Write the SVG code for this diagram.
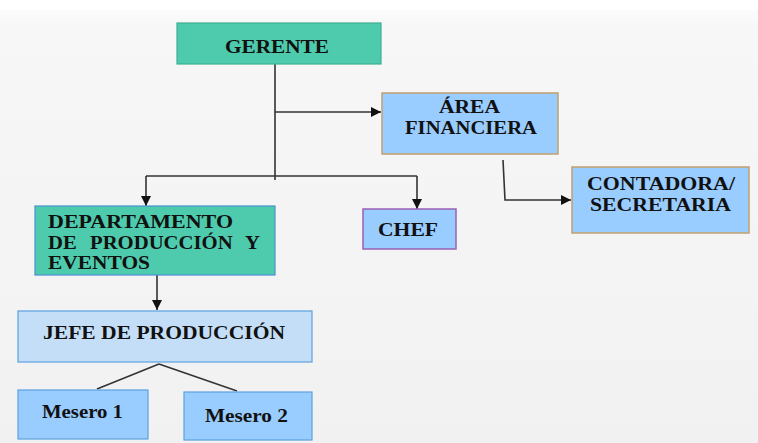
<svg xmlns="http://www.w3.org/2000/svg" width="758" height="443" viewBox="0 0 758 443">
<defs>
<linearGradient id="bg" x1="0" y1="0" x2="0" y2="1">
<stop offset="0" stop-color="#ffffff"/>
<stop offset="0.06" stop-color="#f7f7f7"/>
<stop offset="1" stop-color="#f1f1f1"/>
</linearGradient>
<marker id="arr" viewBox="0 0 10 10" refX="10" refY="5" markerWidth="10" markerHeight="10" markerUnits="userSpaceOnUse" orient="auto">
<path d="M0,0 L10,5 L0,10 Z" fill="#111"/>
</marker>
<style>
text{font-family:"Liberation Serif","Times New Roman",serif;font-weight:bold;font-size:18px;fill:#111}
.c{text-anchor:middle}
.ln{stroke:#333;stroke-width:1.6;fill:none}
.green{fill:#4ECBAD}
.blue{fill:#99CCFF}
.light{fill:#C5DEF8}
</style>
</defs>
<rect x="0" y="0" width="758" height="443" fill="url(#bg)"/>
<rect x="0" y="0" width="758" height="10" fill="#ffffff"/>
<g id="connectors">
<path class="ln" d="M275,64 V180"/>
<path class="ln" d="M275,112 H381" marker-end="url(#arr)"/>
<path class="ln" d="M146,176 H417"/>
<path class="ln" d="M146,176 V206" marker-end="url(#arr)"/>
<path class="ln" d="M417,176 V209" marker-end="url(#arr)"/>
<path class="ln" d="M503,160 L505,200 H571" marker-end="url(#arr)"/>
<path class="ln" d="M157,275 V310" marker-end="url(#arr)"/>
<path class="ln" d="M159,364 L97,389"/>
<path class="ln" d="M159,364 L237,391"/>
</g>
<g id="gerente">
<rect class="green" x="177" y="23" width="204" height="41" stroke="#3FAF92" stroke-width="1.2"/>
<text x="225" y="53" textLength="104" lengthAdjust="spacingAndGlyphs">GERENTE</text>
</g>
<g id="area-financiera">
<rect class="blue" x="382" y="93" width="176" height="61" stroke="#C2A06E" stroke-width="1.5"/>
<text x="439" y="113" textLength="61" lengthAdjust="spacingAndGlyphs">ÁREA</text>
<text x="405" y="134" textLength="132" lengthAdjust="spacingAndGlyphs">FINANCIERA</text>
</g>
<g id="contadora">
<rect class="blue" x="572" y="167" width="177" height="66" stroke="#C2A06E" stroke-width="1.5"/>
<text x="587" y="190" textLength="148" lengthAdjust="spacingAndGlyphs">CONTADORA/</text>
<text x="590" y="211" textLength="141" lengthAdjust="spacingAndGlyphs">SECRETARIA</text>
</g>
<g id="departamento">
<rect class="green" x="35" y="206" width="240" height="69" stroke="#4A90D0" stroke-width="1.2"/>
<text x="48" y="228" textLength="185" lengthAdjust="spacingAndGlyphs">DEPARTAMENTO</text>
<text x="48" y="249" word-spacing="7" textLength="212" lengthAdjust="spacingAndGlyphs">DE PRODUCCIÓN Y</text>
<text x="48" y="269" textLength="102" lengthAdjust="spacingAndGlyphs">EVENTOS</text>
</g>
<g id="chef">
<rect class="blue" x="363" y="209" width="93" height="40" stroke="#9A5FB5" stroke-width="1.5"/>
<text x="378" y="236" textLength="60" lengthAdjust="spacingAndGlyphs">CHEF</text>
</g>
<g id="jefe-produccion">
<rect class="light" x="18" y="311" width="294" height="51" stroke="#5AA0E0" stroke-width="1.2"/>
<text x="43" y="339" textLength="242" lengthAdjust="spacingAndGlyphs">JEFE DE PRODUCCIÓN</text>
</g>
<g id="mesero1">
<rect class="blue" x="18" y="390" width="130" height="49" stroke="#5AA0E0" stroke-width="1.2"/>
<text x="42" y="418" textLength="81" lengthAdjust="spacingAndGlyphs">Mesero 1</text>
</g>
<g id="mesero2">
<rect class="blue" x="184" y="392" width="128" height="48" stroke="#5AA0E0" stroke-width="1.2"/>
<text x="205" y="422" textLength="83" lengthAdjust="spacingAndGlyphs">Mesero 2</text>
</g>
</svg>
